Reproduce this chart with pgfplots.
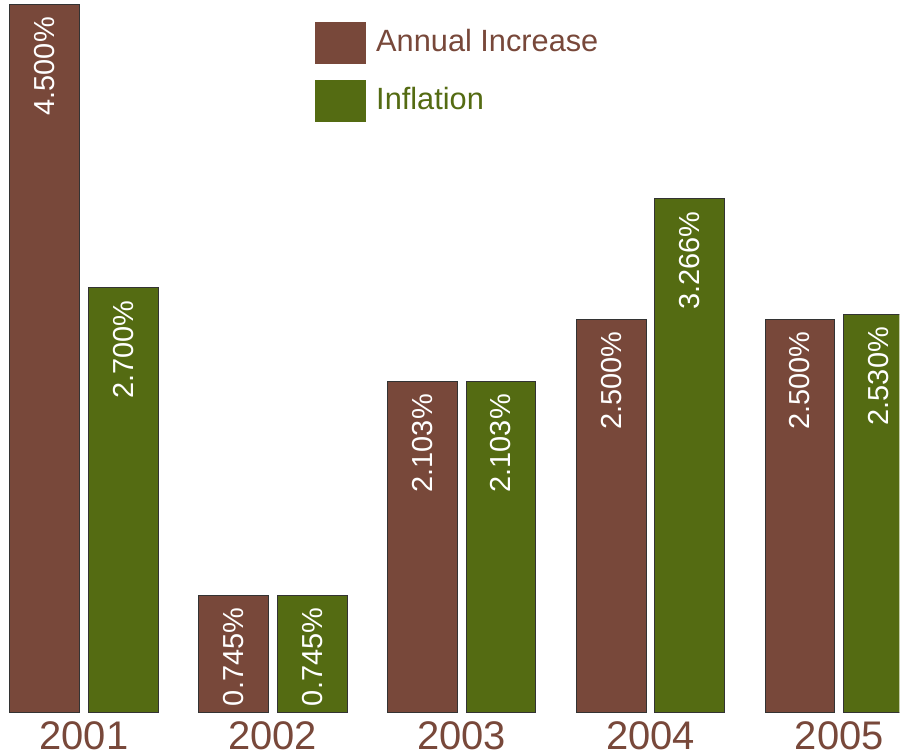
\documentclass[border=0pt]{standalone}
\usepackage{pgfplots}
\pgfplotsset{compat=1.18}
\usepackage{fontspec}
\setmainfont{Liberation Sans}

\definecolor{brn}{RGB}{120,72,58}
\definecolor{grn}{RGB}{84,107,18}

\begin{document}
\begin{tikzpicture}
\begin{axis}[
  scale only axis,
  width=450.5pt, height=378.5pt,
  xmin=-0.4439, xmax=4.317,
  ymin=-0.273, ymax=4.530,
  ybar, bar width=35pt,
  axis line style={draw=none},
  tick style={draw=none},
  major tick length=0pt,
  ytick=\empty,
  /pgf/number format/assume math mode=true,
  xtick={0,1,2,3,4},
  xticklabels={2001,2002,2003,2004,2005},
  xticklabel style={anchor=base, yshift=3pt, inner sep=0pt,
    font=\fontsize{20}{24}\selectfont, text=brn},
  nodes near coords={\pgfmathprintnumber[fixed,fixed zerofill,precision=3]{\pgfplotspointmeta}\%},
  nodes near coords style={rotate=90, anchor=east, inner sep=6pt,
    text=white, font=\fontsize{14.5}{17}\selectfont},
  legend image code/.code={\fill[#1,draw=none] (0pt,-11pt) rectangle (25.5pt,10pt);},
  legend style={at={(0.3507,0.9709)}, anchor=north west,
    draw=none, fill=none, inner sep=0pt, outer sep=0pt,
    row sep=8pt, column sep=5pt,
    nodes={inner sep=0pt},
    font=\fontsize{15.4}{18}\selectfont,
    cells={anchor=west}},
]
\addplot[fill=brn, draw=black!80, line width=0.5pt, bar shift=-19.75pt]
  coordinates {(0,4.5) (1,0.745) (2,2.103) (3,2.5) (4,2.5)};
\addlegendentry{\textcolor{brn}{Annual Increase}}
\addplot[fill=grn, draw=black!80, line width=0.5pt, bar shift=19.75pt]
  coordinates {(0,2.7) (1,0.745) (2,2.103) (3,3.266) (4,2.53)};
\addlegendentry{\textcolor{grn}{Inflation}}
\end{axis}
\end{tikzpicture}
\end{document}
